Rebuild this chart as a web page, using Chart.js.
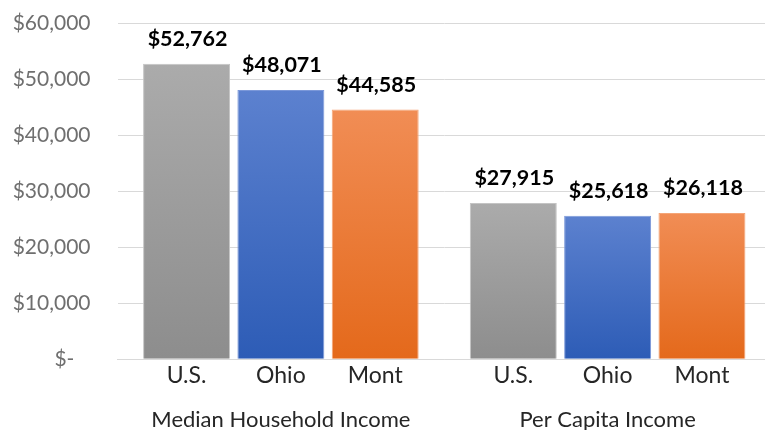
<!DOCTYPE html>
<html>
<head>
<meta charset="utf-8">
<script src="https://cdn.jsdelivr.net/npm/chart.js@4.4.1/dist/chart.umd.min.js"></script>
<style>
  html, body { margin: 0; padding: 0; background: #ffffff; overflow: hidden; }
  #wrap { width: 772px; height: 430px; }
</style>
</head>
<body>
<div id="wrap"><canvas id="c" width="772" height="430"></canvas></div>
<script>
const categories = ['Median Household Income', 'Per Capita Income'];
const seriesNames = ['U.S.', 'Ohio', 'Mont'];
const usValues = [52762, 27915];
const ohioValues = [48071, 25618];
const montValues = [44585, 26118];
const yMax = 60000;
const yStep = 10000;

const gradStops = [
  ['#ababab', '#8d8d8d'],
  ['#5c81cf', '#2d5cb6'],
  ['#f18d55', '#e4691b']
];
const borderCols = ['#c4c4c4', '#7b98d9', '#f5a577'];

function barGradient(ctx, i) {
  if (ctx.type !== 'data') return gradStops[i][0];
  const chart = ctx.chart;
  const ys = chart.scales.y;
  if (!ys) return gradStops[i][0];
  const top = ys.getPixelForValue(ctx.raw);
  const bottom = ys.getPixelForValue(0);
  if (!isFinite(top) || !isFinite(bottom) || top === bottom) return gradStops[i][0];
  const g = chart.ctx.createLinearGradient(0, top, 0, bottom);
  g.addColorStop(0, gradStops[i][0]);
  g.addColorStop(1, gradStops[i][1]);
  return g;
}

function fmtMoney(v) {
  return '$' + Math.round(v).toLocaleString('en-US');
}

const labelPlugin = {
  id: 'labels',
  afterDatasetsDraw(chart) {
    const c = chart.ctx;
    c.save();
    chart.data.datasets.forEach((ds, di) => {
      const meta = chart.getDatasetMeta(di);
      meta.data.forEach((bar, idx) => {
        c.font = 'bold 21.5px Lato';
        c.fillStyle = '#000000';
        c.textAlign = 'center';
        c.textBaseline = 'alphabetic';
        c.fillText(fmtMoney(ds.data[idx]), bar.x + 1, bar.y - 18);
        c.font = '23px Lato';
        c.fillStyle = '#262626';
        c.fillText(ds.label, bar.x, chart.chartArea.bottom + 24);
      });
    });
    c.restore();
  }
};

const seriesValues = [usValues, ohioValues, montValues];

new Chart(document.getElementById('c'), {
  type: 'bar',
  data: {
    labels: categories,
    datasets: seriesNames.map((name, i) => ({
      label: name,
      data: seriesValues[i],
      backgroundColor: (ctx) => barGradient(ctx, i),
      borderColor: borderCols[i],
      borderWidth: 1,
      categoryPercentage: 0.866,
      barPercentage: 0.922
    }))
  },
  options: {
    responsive: false,
    animation: false,
    layout: { padding: { left: 0, right: 1, top: 23.3, bottom: 0 } },
    plugins: {
      legend: { display: false },
      title: { display: false },
      tooltip: { enabled: false }
    },
    scales: {
      x: {
        grid: { display: false, drawTicks: false },
        border: { display: true, color: '#d9d9d9', width: 1 },
        ticks: {
          font: { family: 'Lato', size: 22 },
          color: '#262626',
          padding: 47,
          maxRotation: 0
        },
        afterFit(scale) { scale.height = 70.7; scale.paddingLeft = 0; scale.paddingRight = 0; }
      },
      y: {
        min: 0,
        max: yMax,
        grid: { color: '#d9d9d9', lineWidth: 1, drawTicks: false },
        border: { display: false },
        ticks: {
          stepSize: yStep,
          font: { family: 'Lato', size: 21 },
          color: '#6f6f6f',
          padding: 27,
          callback: (v) => v === 0 ? '$-   ' : fmtMoney(v)
        },
        afterFit(scale) { scale.width = 117.5; scale.paddingTop = 0; scale.paddingBottom = 0; }
      }
    }
  },
  plugins: [labelPlugin]
});
</script>
</body>
</html>
